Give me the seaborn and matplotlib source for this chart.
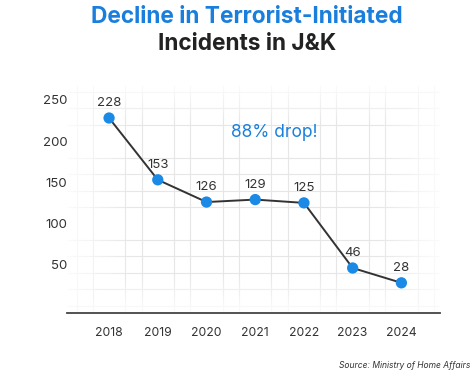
import numpy as np
import pandas as pd
import seaborn as sns
import matplotlib.pyplot as plt
from matplotlib.ticker import MultipleLocator

years = [2018, 2019, 2020, 2021, 2022, 2023, 2024]
incidents = [228, 153, 126, 129, 125, 46, 28]
y_ticks = [50, 100, 150, 200, 250]

BLUE = "#1a7fdc"
DOT = "#1a8ae6"
DARK = "#333333"


def main():
    df = pd.DataFrame({"year": years, "incidents": incidents})

    sns.set_theme(style="white")
    plt.rcParams["font.family"] = ["Inter", "DejaVu Sans"]

    fig = plt.figure(figsize=(4.73, 3.83), dpi=100)
    ax = fig.add_axes([0.142, 0.183, 0.789, 0.595])

    sns.lineplot(data=df, x="year", y="incidents", ax=ax, color=DARK,
                 linewidth=1.4, zorder=3)
    ax.scatter(df["year"], df["incidents"], s=66, color=DOT, zorder=4,
               edgecolor="none")

    for x, y in zip(years, incidents):
        ax.annotate(str(y), (x, y), xytext=(0, 6.5), textcoords="offset points",
                    ha="center", va="bottom", fontsize=9.5, color=DARK)

    ax.set_xlim(2017.14, 2024.8)
    ax.set_ylim(-8.5, 268)
    ax.set_xticks(years)
    ax.set_xticklabels([str(y) for y in years])
    ax.set_yticks(y_ticks)
    ax.xaxis.set_minor_locator(MultipleLocator(1 / 3))
    ax.yaxis.set_minor_locator(MultipleLocator(20))
    ax.grid(which="minor", color="#e6e6e6", linewidth=0.8)
    ax.grid(which="major", visible=False)
    ax.set_axisbelow(True)

    # fade the grid towards the edges
    gx, gy = np.meshgrid(np.linspace(-1, 1, 200), np.linspace(-1, 1, 200))
    fade = np.clip((np.maximum(np.abs(gx), np.abs(gy)) - 0.65) / 0.35, 0, 1)
    overlay = np.zeros((200, 200, 4))
    overlay[..., :3] = 1
    overlay[..., 3] = fade * 0.85
    ax.imshow(overlay, extent=[0, 1, 0, 1], transform=ax.transAxes,
              aspect="auto", zorder=1.5)

    for side in ["top", "right", "left"]:
        ax.spines[side].set_visible(False)
    ax.spines["bottom"].set_color("#444444")
    ax.spines["bottom"].set_linewidth(1.3)
    ax.tick_params(axis="both", length=0, labelsize=9.5, labelcolor=DARK)
    ax.tick_params(axis="x", labelsize=8.8, pad=10)
    ax.tick_params(axis="y", pad=0)
    ax.set_xlabel("")
    ax.set_ylabel("")

    ax.text(0.438, 0.79, "88% drop!", transform=ax.transAxes, fontsize=12.5,
            color=BLUE, ha="left", va="center")

    fig.text(0.522, 0.955, "Decline in Terrorist-Initiated", ha="center",
             va="center", fontsize=16.3, fontweight="bold", color=BLUE)
    fig.text(0.522, 0.885, "Incidents in J&K", ha="center", va="center",
             fontsize=16.3, fontweight="bold", color="#222222")
    fig.text(0.995, 0.045, "Source: Ministry of Home Affairs", ha="right",
             va="center", fontsize=6.1, style="italic", color=DARK)

    fig.savefig("out.png", dpi=100)


if __name__ == "__main__":
    main()
